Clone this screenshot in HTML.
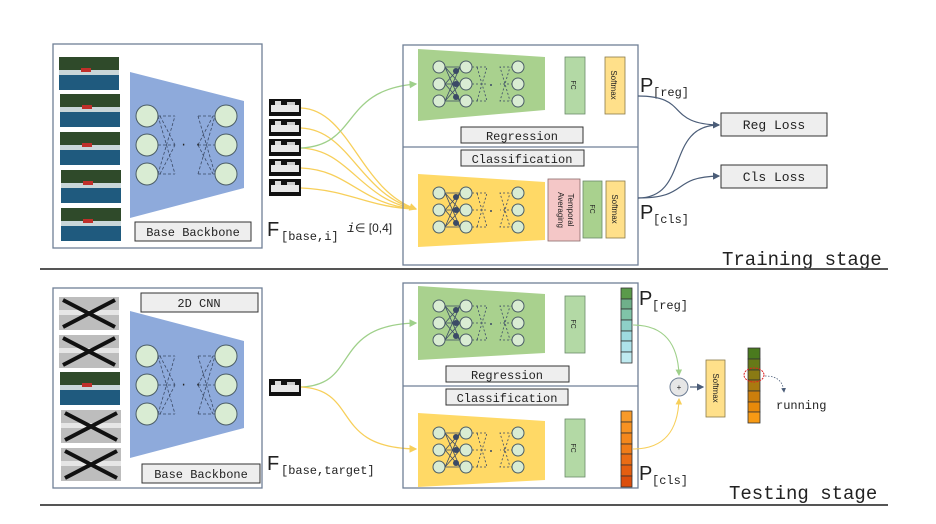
<!DOCTYPE html>
<html><head><meta charset="utf-8"><style>
html,body{margin:0;padding:0;background:#fff;}
svg{display:block;}
text{font-family:"Liberation Mono","DejaVu Sans Mono",monospace;fill:#222;}
.s{font-family:"Liberation Sans",sans-serif;}
</style></head><body>
<svg width="936" height="524" viewBox="0 0 936 524" xmlns="http://www.w3.org/2000/svg">
<defs>
  <marker id="ag" markerWidth="6" markerHeight="6" refX="5" refY="3" orient="auto"><path d="M0,0 L6,3 L0,6z" fill="#9fd08a"/></marker>
  <marker id="ay" markerWidth="6" markerHeight="6" refX="5" refY="3" orient="auto"><path d="M0,0 L6,3 L0,6z" fill="#f7cf5a"/></marker>
  <marker id="ab" markerWidth="6" markerHeight="6" refX="5" refY="3" orient="auto"><path d="M0,0 L6,3 L0,6z" fill="#4b5d78"/></marker>
  <g id="thumb">
    <rect width="60" height="33" fill="#1f5a7e"/>
    <rect width="60" height="14" fill="#2f4a2a"/>
    <rect y="13" width="60" height="5" fill="#c9d6d8"/>
    <rect x="22" y="11" width="10" height="4" fill="#c0302a"/>
  </g>
  <g id="xthumb">
    <rect width="60" height="33" fill="#bdbdbd"/>
    <rect y="13" width="60" height="5" fill="#e6e6e6"/>
    <path d="M4,3 L56,30 M4,30 L56,3" stroke="#111" stroke-width="4"/>
  </g>
  <g id="feat">
    <rect width="32" height="17" fill="#111"/>
    <rect x="2" y="6" width="28" height="7" fill="#e8e8e8"/>
    <rect x="6" y="2" width="6" height="4" fill="#ddd"/><rect x="18" y="3" width="8" height="3" fill="#ccc"/>
  </g>
  <g id="bignet">
    <g stroke="#3b4a66" stroke-dasharray="3,2" fill="none" stroke-width="0.8">
      <path d="M158,-29 L175,-29 M158,0 L175,0 M158,29 L175,29 M158,-29 L175,29 M158,29 L175,-29 M160,-29 L175,0 M160,29 L175,0"/>
      <path d="M198,-29 L215,-29 M198,0 L215,0 M198,29 L215,29 M198,-29 L215,29 M198,29 L215,-29 M198,0 L213,-29 M198,0 L213,29"/>
    </g>
    <text x="180" y="3" font-size="12" fill="#3b4a66">· ·</text>
    <g fill="#d9ecd3" stroke="#4b5d66" stroke-width="1">
      <circle cx="147" cy="-29" r="11"/><circle cx="147" cy="0" r="11"/><circle cx="147" cy="29" r="11"/>
      <circle cx="226" cy="-29" r="11"/><circle cx="226" cy="0" r="11"/><circle cx="226" cy="29" r="11"/>
    </g>
  </g>
  <g id="smallnet">
    <g stroke="#3b4a66" stroke-width="0.8" fill="none">
      <path d="M445,-17 L460,17 M445,17 L460,-17 M445,0 L460,-17 M445,0 L460,17 M445,-17 L460,0 M445,17 L460,0 M445,-17L460,-17 M445,0L460,0 M445,17L460,17"/>
    </g>
    <g stroke="#3b4a66" stroke-width="0.8" stroke-dasharray="2,2" fill="none">
      <path d="M472,-17 L487,-17 L477,17 M472,17 L487,17 L477,-17 M472,0 L487,0"/>
      <path d="M513,-17 L500,-17 L510,17 M513,17 L500,17 L510,-17 M513,0 L500,0"/>
    </g>
    <circle cx="491" cy="1" r="1" fill="#3b4a66"/>
    <g fill="#3b4a66"><circle cx="456" cy="-13" r="3"/><circle cx="456" cy="0" r="3"/><circle cx="456" cy="13" r="3"/></g>
    <g fill="#d9ecd3" stroke="#4b5d66" stroke-width="1">
      <circle cx="439" cy="-17" r="6"/><circle cx="439" cy="0" r="6"/><circle cx="439" cy="17" r="6"/>
      <circle cx="466" cy="-17" r="6"/><circle cx="466" cy="0" r="6"/><circle cx="466" cy="17" r="6"/>
      <circle cx="518" cy="-17" r="6"/><circle cx="518" cy="0" r="6"/><circle cx="518" cy="17" r="6"/>
    </g>
  </g>
</defs>

<!-- ================= TRAINING ================= -->
<rect x="53" y="44" width="209" height="204" fill="#fff" stroke="#6f7f96" stroke-width="1.3"/>
<use href="#thumb" x="59" y="57"/><use href="#thumb" x="60" y="94"/><use href="#thumb" x="60" y="132"/><use href="#thumb" x="61" y="170"/><use href="#thumb" x="61" y="208"/>
<polygon points="130,72 244,101 244,188 130,218" fill="#8eaadb"/>
<use href="#bignet" x="0" y="145"/>
<rect x="135" y="222" width="116" height="19" fill="#eee" stroke="#333" stroke-width="1"/>
<text x="193" y="236" font-size="12" text-anchor="middle">Base Backbone</text>

<use href="#feat" x="269" y="99"/><use href="#feat" x="269" y="119"/><use href="#feat" x="269" y="139"/><use href="#feat" x="269" y="159"/><use href="#feat" x="269" y="179"/>
<text x="267" y="236" font-size="20" class="s">F</text>
<text x="281" y="240" font-size="12">[base,i]</text>
<text x="347" y="232" font-size="13" font-family="Liberation Serif" font-style="italic">i</text>
<text x="355" y="232" font-size="12" class="s">∈ [0,4]</text>

<g fill="none" stroke="#f7cf5a" stroke-width="1.3">
  <path d="M301,108 C350,110 360,190 416,209" marker-end="url(#ay)"/>
  <path d="M301,128 C350,130 360,195 416,209"/>
  <path d="M301,148 C350,150 360,200 416,209"/>
  <path d="M301,168 C350,170 360,205 416,209"/>
  <path d="M301,188 C350,190 370,208 416,209"/>
</g>
<path d="M301,148 C360,145 340,90 416,84" fill="none" stroke="#9fd08a" stroke-width="1.3" marker-end="url(#ag)"/>

<rect x="403" y="45" width="235" height="220" fill="none" stroke="#6f7f96" stroke-width="1.3"/>
<line x1="403" y1="147" x2="638" y2="147" stroke="#6f7f96" stroke-width="1.3"/>
<polygon points="418,49 545,57 545,110 418,121" fill="#a9d18e"/>
<use href="#smallnet" x="0" y="84"/>
<rect x="565" y="57" width="20" height="57" fill="#b3d9a5" stroke="#6a8a6a" stroke-width="0.8"/>
<text transform="translate(571,85) rotate(90)" font-size="7" class="s" text-anchor="middle">FC</text>
<rect x="605" y="57" width="20" height="57" fill="#ffe08a" stroke="#8a7a4a" stroke-width="0.8"/>
<text transform="translate(611,85) rotate(90)" font-size="8" class="s" text-anchor="middle">Softmax</text>
<rect x="461" y="127" width="122" height="16" fill="#eee" stroke="#333"/>
<text x="522" y="140" font-size="12" text-anchor="middle">Regression</text>
<rect x="461" y="150" width="123" height="16" fill="#eee" stroke="#333"/>
<text x="522" y="163" font-size="12" text-anchor="middle">Classification</text>
<polygon points="418,174 545,182 545,240 418,247" fill="#ffd966"/>
<use href="#smallnet" x="0" y="210"/>
<rect x="548" y="179" width="32" height="62" fill="#f4c7c7" stroke="#8a6a6a" stroke-width="0.8"/>
<text transform="translate(568,210) rotate(90)" font-size="8" class="s" text-anchor="middle">Temporal</text>
<text transform="translate(558,210) rotate(90)" font-size="8" class="s" text-anchor="middle">Averaging</text>
<rect x="583" y="181" width="19" height="57" fill="#a9d18e" stroke="#6a8a6a" stroke-width="0.8"/>
<text transform="translate(590,209) rotate(90)" font-size="7" class="s" text-anchor="middle">FC</text>
<rect x="606" y="181" width="19" height="57" fill="#ffe08a" stroke="#8a7a4a" stroke-width="0.8"/>
<text transform="translate(612,209) rotate(90)" font-size="8" class="s" text-anchor="middle">Softmax</text>

<text x="640" y="92" font-size="20" class="s">P</text><text x="653" y="96" font-size="12">[reg]</text>
<text x="640" y="219" font-size="20" class="s">P</text><text x="653" y="223" font-size="12">[cls]</text>
<g fill="none" stroke="#4b5d78" stroke-width="1.2">
  <path d="M638,96 C690,96 665,124 719,125" marker-end="url(#ab)"/>
  <path d="M638,198 C690,198 665,125 719,125"/>
  <path d="M638,198 C690,198 670,177 719,176" marker-end="url(#ab)"/>
</g>
<rect x="721" y="113" width="106" height="23" fill="#eee" stroke="#333"/>
<text x="774" y="129" font-size="13" text-anchor="middle">Reg Loss</text>
<rect x="721" y="165" width="106" height="23" fill="#eee" stroke="#333"/>
<text x="774" y="181" font-size="13" text-anchor="middle">Cls Loss</text>
<text x="722" y="265" font-size="19">Training stage</text>
<line x1="40" y1="269" x2="888" y2="269" stroke="#555" stroke-width="2"/>

<!-- ================= TESTING ================= -->
<rect x="53" y="288" width="209" height="200" fill="#fff" stroke="#6f7f96" stroke-width="1.3"/>
<use href="#xthumb" x="59" y="297"/><use href="#xthumb" x="59" y="335"/><use href="#thumb" x="60" y="372"/><use href="#xthumb" x="61" y="410"/><use href="#xthumb" x="61" y="448"/>
<rect x="141" y="293" width="117" height="19" fill="#eee" stroke="#333"/>
<text x="199" y="307" font-size="12" text-anchor="middle">2D CNN</text>
<polygon points="130,311 244,341 244,428 130,458" fill="#8eaadb"/>
<use href="#bignet" x="0" y="385"/>
<rect x="142" y="464" width="118" height="19" fill="#eee" stroke="#333"/>
<text x="201" y="478" font-size="12" text-anchor="middle">Base Backbone</text>
<use href="#feat" x="269" y="379"/>
<text x="267" y="470" font-size="20" class="s">F</text>
<text x="281" y="474" font-size="12">[base,target]</text>
<path d="M301,387 C360,385 330,325 416,323" fill="none" stroke="#9fd08a" stroke-width="1.3" marker-end="url(#ag)"/>
<path d="M301,387 C360,390 330,448 416,449" fill="none" stroke="#f7cf5a" stroke-width="1.3" marker-end="url(#ay)"/>

<rect x="403" y="283" width="235" height="205" fill="none" stroke="#6f7f96" stroke-width="1.3"/>
<line x1="403" y1="386" x2="638" y2="386" stroke="#6f7f96" stroke-width="1.3"/>
<polygon points="418,286 545,294 545,353 418,360" fill="#a9d18e"/>
<use href="#smallnet" x="0" y="323"/>
<rect x="565" y="296" width="20" height="57" fill="#b3d9a5" stroke="#6a8a6a" stroke-width="0.8"/>
<text transform="translate(571,324) rotate(90)" font-size="7" class="s" text-anchor="middle">FC</text>
<rect x="446" y="366" width="123" height="16" fill="#eee" stroke="#333"/>
<text x="507" y="379" font-size="12" text-anchor="middle">Regression</text>
<rect x="446" y="389" width="122" height="16" fill="#eee" stroke="#333"/>
<text x="507" y="402" font-size="12" text-anchor="middle">Classification</text>
<polygon points="418,413 545,421 545,480 418,487" fill="#ffd966"/>
<use href="#smallnet" x="0" y="450"/>
<rect x="565" y="419" width="20" height="58" fill="#b3d9a5" stroke="#6a8a6a" stroke-width="0.8"/>
<text transform="translate(571,448) rotate(90)" font-size="7" class="s" text-anchor="middle">FC</text>

<g stroke="#333" stroke-width="0.8">
  <rect x="621" y="288" width="11" height="11" fill="#5a9a4a"/><rect x="621" y="299" width="11" height="10" fill="#6fb08a"/><rect x="621" y="309" width="11" height="11" fill="#80c4a8"/><rect x="621" y="320" width="11" height="11" fill="#8ed0c8"/><rect x="621" y="331" width="11" height="10" fill="#9edae0"/><rect x="621" y="341" width="11" height="11" fill="#aee2ea"/><rect x="621" y="352" width="11" height="11" fill="#bfeaf0"/>
  <rect x="621" y="411" width="11" height="11" fill="#f79a2a"/><rect x="621" y="422" width="11" height="11" fill="#f79222"/><rect x="621" y="433" width="11" height="11" fill="#f4871c"/><rect x="621" y="444" width="11" height="10" fill="#f07c18"/><rect x="621" y="454" width="11" height="11" fill="#ea6c14"/><rect x="621" y="465" width="11" height="11" fill="#e45e10"/><rect x="621" y="476" width="11" height="11" fill="#dc4e0c"/>
  <rect x="748" y="348" width="12" height="11" fill="#4a7a1e"/><rect x="748" y="359" width="12" height="11" fill="#667a18"/><rect x="748" y="370" width="12" height="10" fill="#8a7a14"/><rect x="748" y="380" width="12" height="11" fill="#aa7a10"/><rect x="748" y="391" width="12" height="11" fill="#cc7e0c"/><rect x="748" y="402" width="12" height="10" fill="#e88a0a"/><rect x="748" y="412" width="12" height="11" fill="#f79a14"/>
</g>
<text x="639" y="305" font-size="20" class="s">P</text><text x="652" y="309" font-size="12">[reg]</text>
<text x="639" y="480" font-size="20" class="s">P</text><text x="652" y="484" font-size="12">[cls]</text>
<path d="M633,325 C665,325 678,345 679,375" fill="none" stroke="#9fd08a" stroke-width="1.1" marker-end="url(#ag)"/>
<path d="M633,449 C665,449 678,430 679,399" fill="none" stroke="#f7cf5a" stroke-width="1.1" marker-end="url(#ay)"/>
<circle cx="679" cy="387" r="9" fill="#e6e6e6" stroke="#6f7f96"/>
<text x="679" y="390" font-size="8" text-anchor="middle" class="s">+</text>
<line x1="690" y1="387" x2="703" y2="387" stroke="#4b5d78" stroke-width="1.2" marker-end="url(#ab)"/>
<rect x="706" y="360" width="19" height="57" fill="#ffe08a" stroke="#8a7a4a" stroke-width="0.8"/>
<text transform="translate(713,388) rotate(90)" font-size="8" class="s" text-anchor="middle">Softmax</text>
<ellipse cx="754" cy="375" rx="10" ry="7" fill="none" stroke="#d22" stroke-width="1" stroke-dasharray="2,1"/>
<path d="M765,376 C778,376 783,382 784,392" fill="none" stroke="#4b5d78" stroke-width="0.8" stroke-dasharray="1.5,1.5" marker-end="url(#ab)"/>
<text x="776" y="409" font-size="12">running</text>
<text x="729" y="499" font-size="19">Testing stage</text>
<line x1="40" y1="505" x2="888" y2="505" stroke="#555" stroke-width="2"/>
</svg>
</body></html>
